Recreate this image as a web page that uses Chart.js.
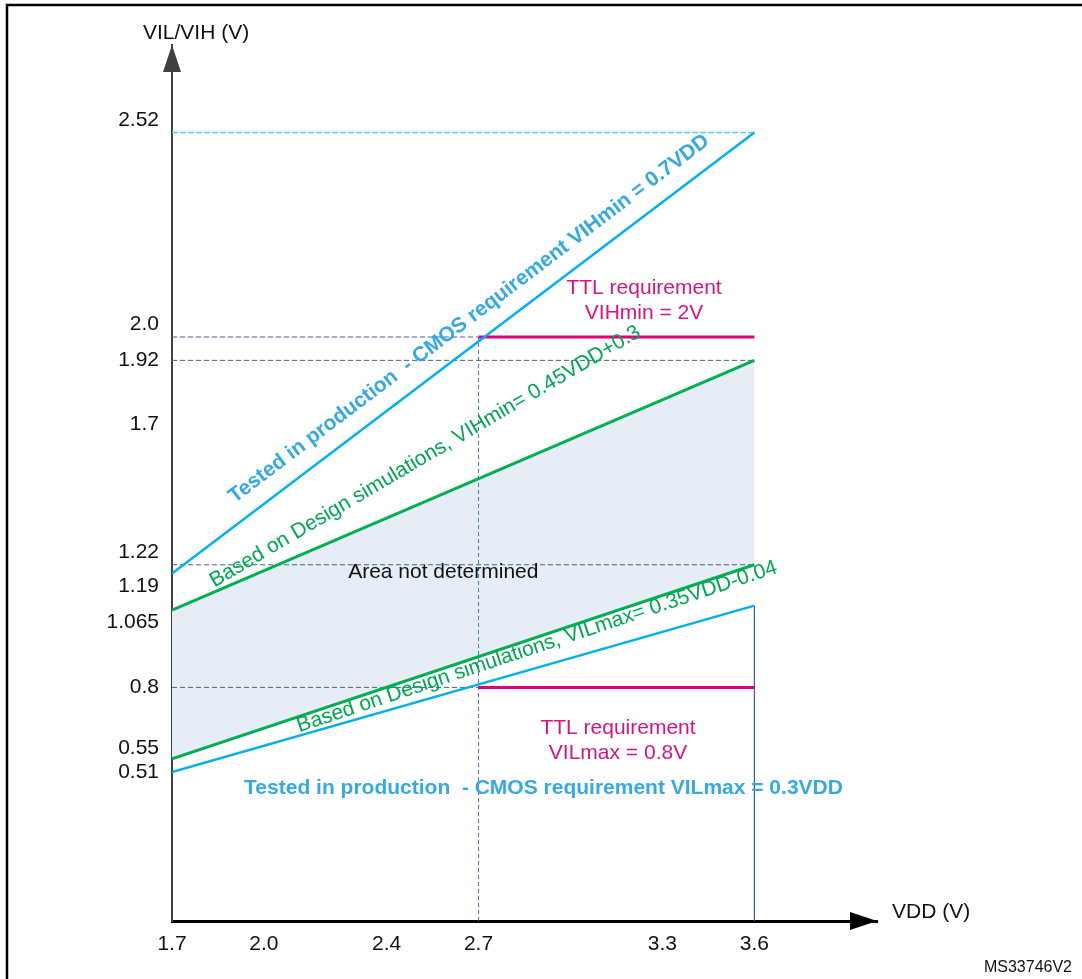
<!DOCTYPE html>
<html>
<head>
<meta charset="utf-8">
<script src="https://cdn.jsdelivr.net/npm/chart.js@4.4.1/dist/chart.umd.min.js"></script>
<style>
html,body{margin:0;padding:0;background:#fff;overflow:hidden}
canvas{display:block}
</style>
</head>
<body>
<canvas id="c" width="1082" height="979"></canvas>
<script>
// ---------- data ----------
const vddEnds      = [1.7, 3.6];
const cmosVihMin   = [1.19, 2.52];   // 0.7 VDD
const designVihMin = [1.065, 1.92];  // 0.45 VDD + 0.3
const designVilMax = [0.555, 1.22];  // 0.35 VDD - 0.04
const cmosVilMax   = [0.51, 1.08];   // 0.3 VDD
const ttlVdd       = [2.7, 3.6];
const ttlVihMin    = [2.0, 2.0];
const ttlVilMax    = [0.8, 0.8];
const guideLevels  = [2.52, 2.0, 1.92, 1.22, 0.8];
const guideEnds    = [3.6, 2.7, 3.6, 3.6, 2.7];
const xTickValues  = [1.7, 2.0, 2.4, 2.7, 3.3, 3.6];
const xTickLabels  = ['1.7', '2.0', '2.4', '2.7', '3.3', '3.6'];
const yTickValues  = [0.51, 0.55, 0.8, 1.065, 1.19, 1.22, 1.7, 1.92, 2.0, 2.52];
const yTickLabels  = ['0.51', '0.55', '0.8', '1.065', '1.19', '1.22', '1.7', '1.92', '2.0', '2.52'];

// ---------- styles ----------
const FONT = "'Liberation Sans', Arial, Helvetica, sans-serif";
const BLUE = '#00b0f0', GREEN = '#00b050', PINK = '#e2007a', FILL = '#e6edf6';
const GUIDE = '#46618f';
Chart.defaults.font.family = FONT;
Chart.defaults.font.size = 21;
Chart.defaults.color = '#111';

// label nudges: -1 = label above its tick, +1 = below
const yLabelNudge = {'2.52': -1, '2.0': -1, '1.22': -1, '1.19': 1, '1.065': 1, '0.55': -1};

// schematic (broken) y scale: values above 2.0 V are drawn stretched, as in the figure
const Y_BREAK = 2.0, Y_STRETCH = 0.7 / 0.52;
class SchematicScale extends Chart.LinearScale {
  static id = 'schematic';
  static defaults = Chart.LinearScale.defaults;
  toAxis(v) { return v <= Y_BREAK ? v : Y_BREAK + (v - Y_BREAK) * Y_STRETCH; }
  fromAxis(a) { return a <= Y_BREAK ? a : Y_BREAK + (a - Y_BREAK) / Y_STRETCH; }
  getPixelForValue(v) { return v == null ? NaN : super.getPixelForValue(this.toAxis(v)); }
  getValueForPixel(p) { return this.fromAxis(super.getValueForPixel(p)); }
}
Chart.register(SchematicScale);

const pts = (xs, ys) => xs.map((x, i) => ({x: x, y: ys[i]}));
const line = (label, data, color, width, extra) => Object.assign({
  label, data, borderColor: color, borderWidth: width, pointRadius: 0,
  pointHoverRadius: 0, tension: 0, fill: false, borderCapStyle: 'butt'
}, extra || {});

const datasets = [
  line('cmosVih',   pts(vddEnds, cmosVihMin),   BLUE,  2.5),
  line('ttlVih',    pts(ttlVdd, ttlVihMin),     PINK,  3),
  line('designVih', pts(vddEnds, designVihMin), GREEN, 3, {fill: 3, backgroundColor: FILL}),
  line('designVil', pts(vddEnds, designVilMax), GREEN, 3),
  line('cmosVil',   pts(vddEnds, cmosVilMax),   BLUE,  2.5),
  line('ttlVil',    pts(ttlVdd, ttlVilMax),     PINK,  3)
];
guideLevels.forEach((lv, i) => {
  const top = i === 0;
  datasets.push(line('guide' + lv, pts([vddEnds[0], guideEnds[i]], [lv, lv]),
    top ? '#5ec9f2' : GUIDE, top ? 1.5 : 1, {borderDash: top ? [6, 2] : [5, 3]}));
});
datasets.push(line('v27', pts([ttlVdd[0], ttlVdd[0]], [0, ttlVihMin[0]]), '#4a76c0', 1, {borderDash: [4, 3]}));
datasets.push(line('v36', pts([vddEnds[1], vddEnds[1]], [0, cmosVilMax[1]]), '#3a5ca0', 1.2));

// ---------- annotations ----------
const alongNotes = [
  {text: 'Tested in production  - CMOS requirement VIHmin = 0.7VDD', ds: 0, at: 1.94, gap: 18, bold: true, color: '#36a9e1'},
  {text: 'Based on Design simulations, VIHmin= 0.45VDD+0.3', ds: 2, at: 1.845, gap: 4, angle: -30.5, color: '#00a651'},
  {text: 'Based on Design simulations, VILmax= 0.35VDD-0.04', ds: 3, at: 2.1, gap: -15, color: '#00a651'}
];
const blockNotes = [
  {lines: ['TTL requirement', 'VIHmin = 2V'], x: 3.24, y: 2.093, color: '#d6137f'},
  {lines: ['TTL requirement', 'VILmax = 0.8V'], x: 3.155, y: 0.618, color: '#d6137f'},
  {lines: ['Area not determined'], x: 2.585, y: 1.195, color: '#111'},
  {lines: ['Tested in production  - CMOS requirement VILmax = 0.3VDD'], x: 2.912, y: 0.455, color: '#36a9e1', bold: true}
];

const decor = {
  id: 'decor',
  beforeDraw(chart) {
    const ctx = chart.ctx;
    ctx.save();
    ctx.fillStyle = '#fff';
    ctx.fillRect(0, 0, chart.width, chart.height);
    ctx.strokeStyle = '#000';
    ctx.lineWidth = 2.5;
    ctx.strokeRect(7, 5, chart.width + 40, chart.height + 40);
    ctx.restore();
  },
  afterDraw(chart) {
    const ctx = chart.ctx, a = chart.chartArea;
    const xs = chart.scales.x, ys = chart.scales.y;
    ctx.save();
    // arrow heads
    ctx.fillStyle = '#404040';
    ctx.beginPath();
    ctx.moveTo(a.left, a.top); ctx.lineTo(a.left - 9, a.top + 27); ctx.lineTo(a.left + 9, a.top + 27);
    ctx.closePath(); ctx.fill();
    ctx.fillStyle = '#000';
    ctx.beginPath();
    ctx.moveTo(a.right, a.bottom); ctx.lineTo(a.right - 27, a.bottom - 9); ctx.lineTo(a.right - 27, a.bottom + 9);
    ctx.closePath(); ctx.fill();
    // axis titles
    ctx.font = '21px ' + FONT;
    ctx.fillStyle = '#111';
    ctx.textBaseline = 'middle';
    ctx.textAlign = 'left';
    ctx.fillText('VIL/VIH (V)', a.left - 29, a.top - 12);
    ctx.fillText('VDD (V)', a.right + 15, a.bottom - 9);
    ctx.font = '16px ' + FONT;
    ctx.textAlign = 'right';
    ctx.fillText('MS33746V2', chart.width - 10, chart.height - 11);

    // text along lines
    alongNotes.forEach(n => {
      const meta = chart.getDatasetMeta(n.ds);
      const p0 = meta.data[0], p1 = meta.data[1];
      const ang = n.angle != null ? n.angle * Math.PI / 180 : Math.atan2(p1.y - p0.y, p1.x - p0.x);
      const px = xs.getPixelForValue(n.at);
      const py = p0.y + (px - p0.x) * (p1.y - p0.y) / (p1.x - p0.x);
      ctx.save();
      ctx.translate(px, py);
      ctx.rotate(ang);
      ctx.font = (n.bold ? 'bold ' : '') + '21px ' + FONT;
      ctx.fillStyle = n.color;
      ctx.textAlign = 'left';
      ctx.textBaseline = 'alphabetic';
      ctx.fillText(n.text, 0, -n.gap);
      ctx.restore();
    });
    // centred blocks
    blockNotes.forEach(n => {
      const cx = xs.getPixelForValue(n.x), cy = ys.getPixelForValue(n.y);
      ctx.font = (n.bold ? 'bold ' : '') + '21px ' + FONT;
      ctx.fillStyle = n.color;
      ctx.textAlign = 'center';
      ctx.textBaseline = 'middle';
      const lh = 25, y0 = cy - (n.lines.length - 1) * lh / 2;
      n.lines.forEach((t, i) => ctx.fillText(t, cx, y0 + i * lh));
    });
    ctx.restore();
  }
};

new Chart(document.getElementById('c'), {
  type: 'line',
  data: {datasets},
  options: {
    responsive: false,
    animation: false,
    events: [],
    layout: {padding: {left: 0, top: 45, right: 205, bottom: 0}},
    plugins: {
      legend: {display: false},
      tooltip: {enabled: false},
      filler: {drawTime: 'beforeDatasetsDraw'}
    },
    scales: {
      x: {
        type: 'linear', min: 1.7, max: 4.0, bounds: 'data',
        grid: {display: false, drawTicks: false},
        border: {display: true, color: '#000', width: 3},
        afterBuildTicks: s => { s.ticks = xTickValues.map(v => ({value: v})); },
        afterFit: s => { s.height = 58; },
        ticks: {
          autoSkip: false, maxRotation: 0, padding: 11, color: '#111',
          font: {size: 21},
          callback: (v, i) => xTickLabels[i]
        }
      },
      y: {
        type: 'schematic', min: 0, max: 3.0, bounds: 'data',
        grid: {display: false, drawTicks: false},
        border: {display: true, color: '#404040', width: 2},
        afterBuildTicks: s => { s.ticks = yTickValues.map(v => ({value: v})); },
        afterFit: s => { s.width = 172; },
        ticks: {
          autoSkip: false, padding: 13, color: '#111',
          font: {size: 21},
          callback: (v, i) => {
            const t = yTickLabels[i], n = yLabelNudge[t] || 0;
            return n < 0 ? [t, ''] : n > 0 ? ['', t] : t;
          }
        }
      }
    }
  },
  plugins: [decor]
});
</script>
</body>
</html>
